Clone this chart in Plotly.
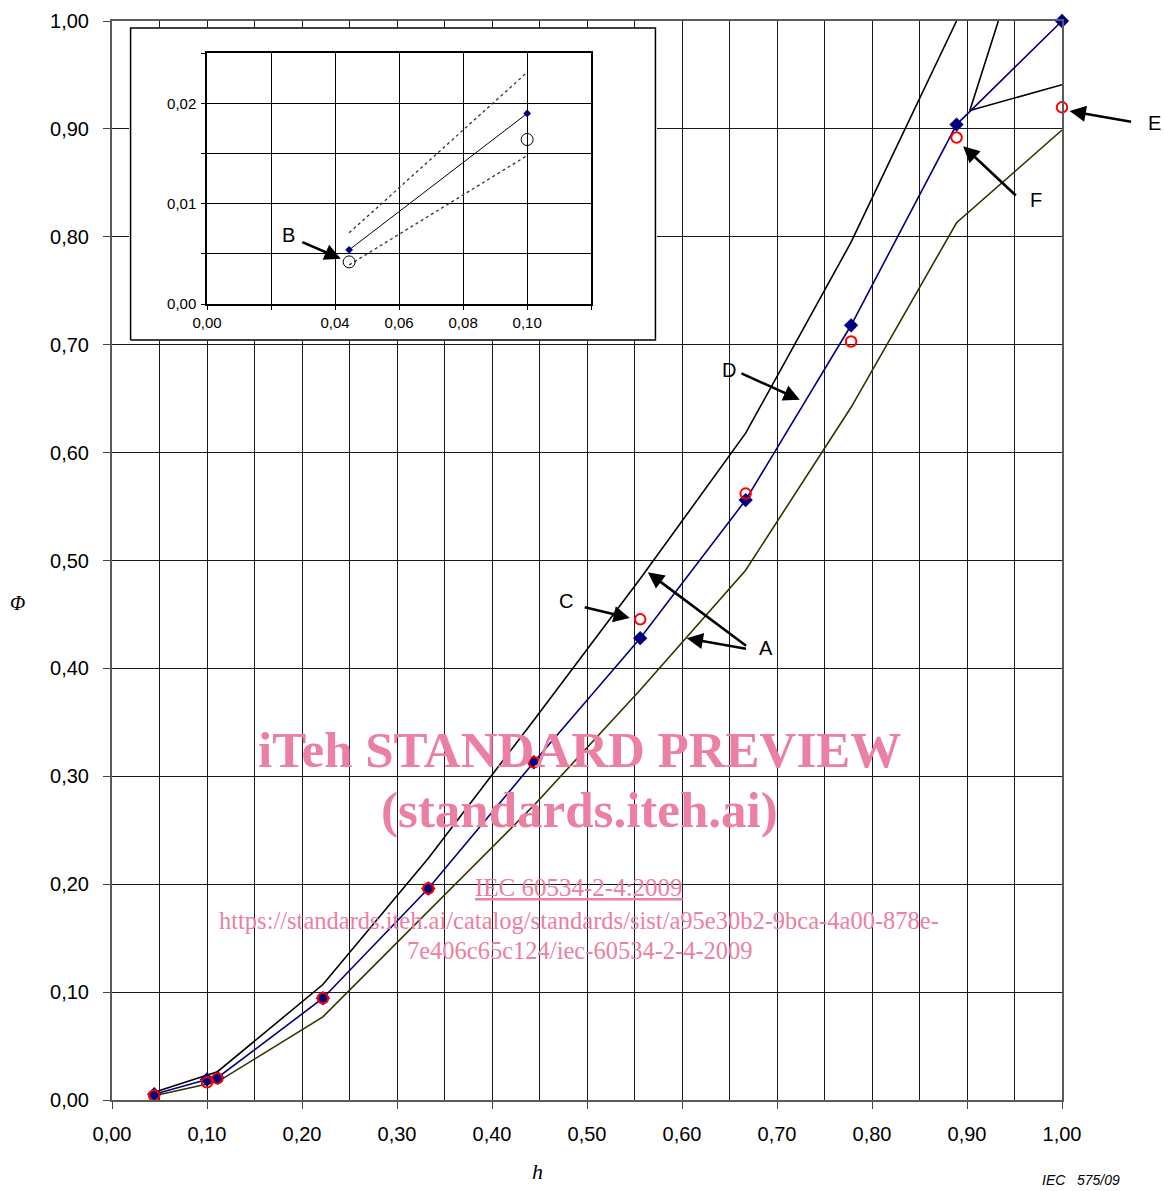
import plotly.graph_objects as go

# ---------------- data ----------------
h = [0.0444, 0.100, 0.111, 0.222, 0.333, 0.444, 0.556, 0.667, 0.778, 0.889, 1.000]
phi_char = [0.0054, 0.0190, 0.0207, 0.0943, 0.196, 0.313, 0.428, 0.556, 0.718, 0.904, 1.000]
phi_test = [0.0042, 0.0164, 0.0200, 0.0943, 0.196, 0.313, 0.4455, 0.562, 0.703, 0.892, 0.920]
h_upper = h[:10]
phi_upper = [0.0071, 0.0231, 0.0262, 0.107, 0.224, 0.352, 0.483, 0.618, 0.795, 1.000]
phi_lower = [0.0039, 0.0148, 0.0168, 0.077, 0.175, 0.273, 0.380, 0.491, 0.642, 0.813, 0.899]
fan_h = [0.933, 0.903, 1.000]
fan_phi = [1.000, 0.917, 0.941]

# inset (zoom of the first two points)
inset_h = h[:2]
inset_char = phi_char[:2]
inset_test = phi_test[:2]
inset_upper = phi_upper[:2]
inset_lower = phi_lower[:2]

inset_xticks = [0.00, 0.02, 0.04, 0.06, 0.08, 0.10, 0.12]
inset_xtext = ["0,00", "", "0,04", "0,06", "0,08", "0,10", ""]
inset_yticks = [0.000, 0.005, 0.010, 0.015, 0.020, 0.025]
inset_ytext = ["0,00", "", "0,01", "", "0,02", ""]

NAVY = "#000080"
OLIVE = "#333300"
WM = "rgb(236,128,162)"
SANS = "Liberation Sans, Arial, sans-serif"
SERIF = "Liberation Serif, Times New Roman, serif"

fig = go.Figure()

# ---------------- main chart ----------------
fig.add_trace(go.Scatter(x=h_upper, y=phi_upper, mode="lines",
                         line=dict(color="black", width=1.6), xaxis="x", yaxis="y"))
fig.add_trace(go.Scatter(x=h, y=phi_lower, mode="lines",
                         line=dict(color=OLIVE, width=1.6), xaxis="x", yaxis="y"))
fig.add_trace(go.Scatter(x=fan_h, y=fan_phi, mode="lines",
                         line=dict(color="black", width=1.6), xaxis="x", yaxis="y"))
fig.add_trace(go.Scatter(x=h, y=phi_char, mode="lines+markers", cliponaxis=False,
                         line=dict(color=NAVY, width=1.6),
                         marker=dict(symbol="diamond", size=11, color=NAVY),
                         xaxis="x", yaxis="y"))
fig.add_trace(go.Scatter(x=h, y=phi_test, mode="markers", cliponaxis=False,
                         marker=dict(symbol="circle-open", size=10.5, color="red",
                                     line=dict(width=2, color="red")),
                         xaxis="x", yaxis="y"))

# ---------------- inset frame (white box) ----------------
fig.add_trace(go.Scatter(x=[0, 1, 1, 0, 0], y=[0, 0, 1, 1, 0], mode="lines",
                         fill="toself", fillcolor="white",
                         line=dict(color="black", width=1.5),
                         xaxis="x2", yaxis="y2"))

# ---------------- inset traces ----------------
fig.add_trace(go.Scatter(x=inset_h, y=inset_upper, mode="lines",
                         line=dict(color="#333333", width=1.3, dash="dot"),
                         xaxis="x3", yaxis="y3"))
fig.add_trace(go.Scatter(x=inset_h, y=inset_lower, mode="lines",
                         line=dict(color="#333333", width=1.3, dash="dot"),
                         xaxis="x3", yaxis="y3"))
fig.add_trace(go.Scatter(x=inset_h, y=inset_char, mode="lines+markers",
                         line=dict(color="black", width=1),
                         marker=dict(symbol="diamond", size=6, color=NAVY),
                         xaxis="x3", yaxis="y3"))
fig.add_trace(go.Scatter(x=inset_h, y=inset_test, mode="markers",
                         marker=dict(symbol="circle-open", size=12, color="black",
                                     line=dict(width=1, color="black")),
                         xaxis="x3", yaxis="y3"))

ARROW_STYLE = dict(showarrow=True, arrowhead=2, arrowsize=1.25, arrowwidth=2.6,
                   arrowcolor="black", standoff=0, startstandoff=0, font=dict(size=1))


def arrow(hx, hy, tx, ty, xr="x", yr="y"):
    return dict(x=hx, y=hy, ax=tx, ay=ty, xref=xr, yref=yr, axref=xr, ayref=yr,
                **ARROW_STYLE)


def parrow(hx, hy, dx, dy):
    # arrow anchored in paper coordinates, tail offset in pixels
    return dict(x=hx, y=hy, ax=dx, ay=dy, xref="paper", yref="paper",
                axref="pixel", ayref="pixel", **ARROW_STYLE)


def label(x, y, t, xr="x", yr="y", size=20):
    return dict(x=x, y=y, xref=xr, yref=yr, text=t, showarrow=False,
                font=dict(family=SANS, size=size, color="black"),
                xanchor="center", yanchor="middle")


def ptext(x, y, t, family, size, color="black"):
    return dict(x=x, y=y, xref="paper", yref="paper", text=t, showarrow=False,
                xanchor="center", yanchor="middle",
                font=dict(family=family, size=size, color=color))


annotations = [
    # letters
    label(0.688, 0.419, "A"),
    label(0.478, 0.4625, "C"),
    label(0.649, 0.677, "D"),
    label(1.097, 0.9055, "E", "paper", "paper"),
    label(0.973, 0.834, "F"),
    label(0.0256, 0.00693, "B", "x3", "y3"),
    # arrows
    arrow(0.564, 0.489, 0.669, 0.420),
    arrow(0.605, 0.428, 0.669, 0.418),
    arrow(0.545, 0.4467, 0.496, 0.457),
    arrow(0.724, 0.649, 0.661, 0.674),
    parrow(1.008, 0.9166, 63, 11),
    arrow(0.896, 0.884, 0.953, 0.837),
    arrow(0.0418, 0.00452, 0.0293, 0.00623, "x3", "y3"),
    # axis titles
    ptext(-0.099, 0.4606, "<i>Φ</i>", SERIF, 20),
    ptext(0.4484, -0.0667, "<i>h</i>", SERIF, 22),
    ptext(1.02, -0.0741, "<i>IEC   575/09</i>", SANS, 14),
    # watermark
    ptext(0.4926, 0.3244, "<b>iTeh STANDARD PREVIEW</b>", SERIF, 51, WM),
    ptext(0.4926, 0.2688, "<b>(standards.iteh.ai)</b>", SERIF, 51, WM),
    ptext(0.4916, 0.1965, "<u>IEC 60534-2-4:2009</u>", SERIF, 25, WM),
    ptext(0.4916, 0.1668,
          "https://standards.iteh.ai/catalog/standards/sist/a95e30b2-9bca-4a00-878e-",
          SERIF, 24.5, WM),
    ptext(0.4926, 0.1381, "7e406c65c124/iec-60534-2-4-2009", SERIF, 24.5, WM),
]

GRID = "#1a1a1a"

fig.update_layout(
    width=1164, height=1191,
    margin=dict(l=112, r=102, t=21, b=91, autoexpand=False),
    paper_bgcolor="white", plot_bgcolor="white",
    showlegend=False,
    separators=", ",
    annotations=annotations,
    xaxis=dict(domain=[0, 1], range=[0, 1.0], dtick=0.1, tick0=0, tickformat=".2f",
               showgrid=True, gridcolor=GRID, gridwidth=1,
               minor=dict(dtick=0.05, tick0=0, showgrid=True, gridcolor=GRID, gridwidth=1),
               ticks="outside", ticklen=7, tickcolor="#444",
               showline=True, linecolor="#5a5a5a", linewidth=2, mirror=True,
               zeroline=False, ticklabelstandoff=8, automargin=False,
               tickfont=dict(family=SANS, size=20, color="black"), anchor="y"),
    yaxis=dict(domain=[0, 1], range=[0, 1.0], dtick=0.1, tick0=0, tickformat=".2f",
               showgrid=True, gridcolor=GRID, gridwidth=1,
               ticks="outside", ticklen=7, tickcolor="#444",
               showline=True, linecolor="#5a5a5a", linewidth=2, mirror=True,
               zeroline=False, ticklabelstandoff=10, automargin=False,
               tickfont=dict(family=SANS, size=20, color="black"), anchor="x"),
    xaxis2=dict(domain=[0.0179, 0.5737], range=[-0.003, 1.003], visible=False,
                anchor="y2", fixedrange=True, automargin=False),
    yaxis2=dict(domain=[0.7034, 0.9944], range=[-0.003, 1.003], visible=False,
                anchor="x2", fixedrange=True, automargin=False),
    xaxis3=dict(domain=[0.1, 0.5044], range=[0, 0.12],
                tickvals=inset_xticks, ticktext=inset_xtext,
                showgrid=True, gridcolor="black", gridwidth=1,
                ticks="outside", ticklen=4, tickcolor="black",
                showline=True, linecolor="black", linewidth=1.5, mirror=True,
                zeroline=False, ticklabelstandoff=0, automargin=False,
                tickfont=dict(family=SANS, size=15, color="black"), anchor="y3"),
    yaxis3=dict(domain=[0.7377, 0.9701], range=[0, 0.025],
                tickvals=inset_yticks, ticktext=inset_ytext,
                showgrid=True, gridcolor="black", gridwidth=1,
                ticks="outside", ticklen=4, tickcolor="black",
                showline=True, linecolor="black", linewidth=1.5, mirror=True,
                zeroline=False, ticklabelstandoff=2, automargin=False,
                tickfont=dict(family=SANS, size=15, color="black"), anchor="x3"),
)

fig.write_html("out.html",
               config={"displayModeBar": False},
               post_script="document.body.style.margin='0px';document.body.style.overflow='hidden';")
